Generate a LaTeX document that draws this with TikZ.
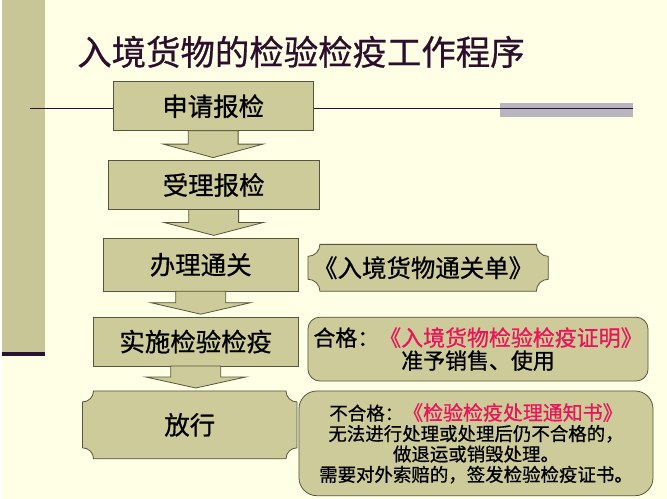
\documentclass[tikz,border=0pt]{standalone}
\usepackage{fontspec}
\setmainfont{Noto Sans CJK SC}
\newfontface\heifont{Noto Sans CJK SC}[FakeBold=0.7]
\usetikzlibrary{calc}
\definecolor{pagebg}{RGB}{255,255,230}
\definecolor{barkhaki}{RGB}{200,198,150}
\definecolor{boxfill}{RGB}{204,203,153}
\definecolor{boxline}{RGB}{85,85,65}
\definecolor{darkline}{RGB}{40,20,50}
\definecolor{lavbar}{RGB}{184,180,192}
\definecolor{titlecol}{RGB}{45,15,45}
\definecolor{redtext}{RGB}{235,20,90}
\pgfdeclarelayer{pagelayer}
\pgfdeclarelayer{shapelayer}
\pgfsetlayers{pagelayer,shapelayer,main}
\tikzset{
  boxstyle/.style={draw=boxline, fill=boxfill, line width=0.8pt, inner sep=0pt, outer sep=0pt,
    font=\heifont\fontsize{25.5}{28}\selectfont},
  plaquenode/.style={inner sep=0pt, outer sep=0pt},
  plaqueline/.style={draw=boxline, fill=boxfill, line width=0.8pt},
  arrowstyle/.style={draw=boxline, fill=boxfill, line width=0.8pt, line join=miter},
  roundbox/.style={draw=boxline, fill=boxfill, line width=0.8pt, inner sep=0pt, outer sep=0pt, align=center},
}
\newcommand{\plaquedraw}[2]{%
  \begin{pgfonlayer}{shapelayer}
  \draw[plaqueline] ($(#1.north west)+(#2,0)$) -- ($(#1.north east)+(-#2,0)$)
    .. controls ($(#1.north east)+(-#2,0.552*#2)$) and ($(#1.north east)+(-0.552*#2,#2)$) .. ($(#1.north east)+(0,#2)$)
    -- ($(#1.south east)+(0,-#2)$)
    .. controls ($(#1.south east)+(-0.552*#2,-#2)$) and ($(#1.south east)+(-#2,-0.552*#2)$) .. ($(#1.south east)+(-#2,0)$)
    -- ($(#1.south west)+(#2,0)$)
    .. controls ($(#1.south west)+(#2,-0.552*#2)$) and ($(#1.south west)+(0.552*#2,-#2)$) .. ($(#1.south west)+(0,-#2)$)
    -- ($(#1.north west)+(0,#2)$)
    .. controls ($(#1.north west)+(0.552*#2,#2)$) and ($(#1.north west)+(#2,0.552*#2)$) .. cycle;
  \end{pgfonlayer}}
\newcommand{\blockarrow}[2]{%
  \draw[arrowstyle] let \p1=(#1.south), \p2=(#2.north), \n1={\y2+3pt}, \n2={(\y1+\y2+3pt)/2} in
    (\x1-25pt,\y1) -- (\x1-25pt,\n2) -- (\x1-50pt,\n2) -- (\x1,\n1) -- (\x1+50pt,\n2)
    -- (\x1+25pt,\n2) -- (\x1+25pt,\y1) -- cycle;}
\begin{document}
\begin{tikzpicture}[x=1pt,y=-1pt]
\begin{pgfonlayer}{pagelayer}
  \fill[pagebg] (0,0) rectangle (667,500);
  \fill[barkhaki] (0,0) rectangle (43,355);
  \draw[darkline, line width=3.5pt] (0,355) -- (43,355);
  \fill[lavbar] (500,103) rectangle (633,117);
  \draw[darkline, line width=1.5pt] (28,109) -- (633,109);
\end{pgfonlayer}
\useasboundingbox (0,0) rectangle (667,500);

\node[font=\heifont\fontsize{34.5}{36}\selectfont, text=titlecol, inner sep=0pt] (title) at (300,52) {入境货物的检验检疫工作程序};

\node[boxstyle, minimum width=200pt, minimum height=49pt] (b1) at (212,106.5) {申请报检};
\node[boxstyle, minimum width=211pt, minimum height=49pt] (b2) at (212.5,185.5) {受理报检};
\node[boxstyle, minimum width=195pt, minimum height=53pt] (b3) at (199.5,265.5) {办理通关};
\node[boxstyle, minimum width=205pt, minimum height=49pt] (b4) at (194.5,342.5) {实施检验检疫};
\node[plaquenode, minimum width=215pt, minimum height=68pt, font=\heifont\fontsize{25.5}{28}\selectfont] (b5) at (188.5,426) {放行};
\plaquedraw{b5}{11}

\node[plaquenode, minimum width=241pt, minimum height=47pt, font=\heifont\fontsize{24.5}{26}\selectfont] (doc) at (427.5,268.5) {\hspace*{-10pt}《入境货物通关单》};
\plaquedraw{doc}{12}

\node[roundbox, rounded corners=12pt, minimum width=341pt, minimum height=64pt,
  font=\heifont\fontsize{22}{23}\selectfont] (pass) at (477.5,350)
  {合格：\textcolor{redtext}{《入境货物检验检疫证明》}\\准予销售、使用};

\node[roundbox, rounded corners=18pt, minimum width=355pt, minimum height=105pt,
  font=\heifont\fontsize{18.5}{20.5}\selectfont] (fail) at (475.5,444.5)
  {不合格：{\fontsize{20}{20.5}\selectfont\color{redtext}《检验检疫处理通知书》}\\
   无法进行处理或处理后仍不合格的，\\
   做退运或销毁处理。\\
   需要对外索赔的，签发检验检疫证书。};

\blockarrow{b1}{b2}
\blockarrow{b2}{b3}
\blockarrow{b3}{b4}
\blockarrow{b4}{b5}
\end{tikzpicture}
\end{document}
